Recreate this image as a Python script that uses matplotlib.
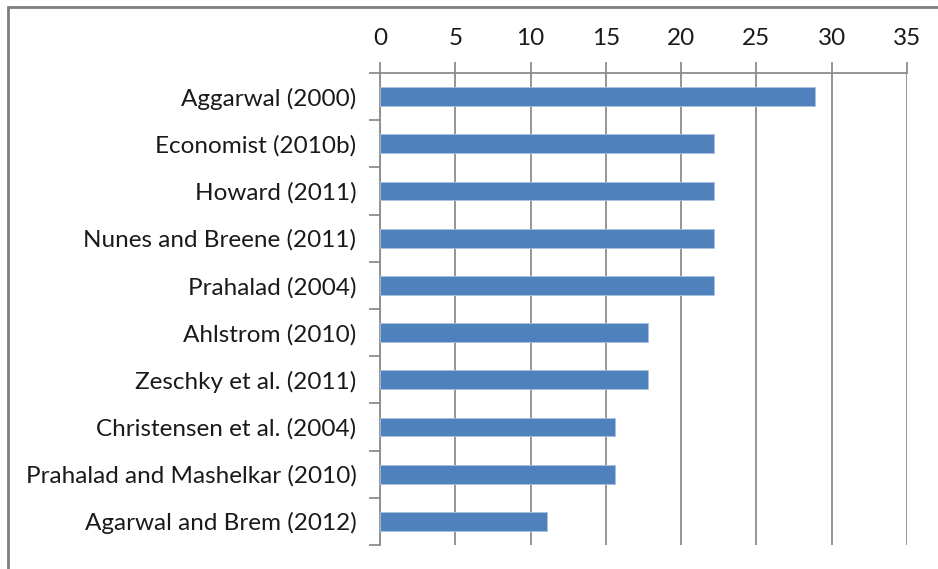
import numpy as np
import matplotlib.pyplot as plt
from matplotlib.patches import Rectangle

# studies, top to bottom as shown
studies = [
    "Aggarwal (2000)",
    "Economist (2010b)",
    "Howard (2011)",
    "Nunes and Breene (2011)",
    "Prahalad (2004)",
    "Ahlstrom (2010)",
    "Zeschky et al. (2011)",
    "Christensen et al. (2004)",
    "Prahalad and Mashelkar (2010)",
    "Agarwal and Brem (2012)",
]
values = [28.9, 22.2, 22.2, 22.2, 22.2, 17.8, 17.8, 15.6, 15.6, 11.1]
xticks = [0, 5, 10, 15, 20, 25, 30, 35]

plt.rcParams['font.family'] = ['Lato', 'DejaVu Sans']

fig = plt.figure(figsize=(9.38, 5.69), dpi=100)
ax = fig.add_axes([380/938, 1-545/569, (907-380)/938, (545-73)/569])

n = len(studies)
ypos = np.arange(n)
ax.barh(ypos, values, height=0.4, color="#4F81BD", edgecolor="#A9C1E0", linewidth=0.6, zorder=3)

ax.set_xlim(0, 35)
ax.set_ylim(n - 0.5, -0.5)
ax.xaxis.tick_top()
ax.set_xticks(xticks)
ax.set_xticklabels([str(t) for t in xticks])
ax.grid(axis="x", color="#8c8c8c", linewidth=1.3, zorder=0)

# category labels between tick marks
ax.set_yticks(ypos)
ax.set_yticklabels(studies)
ax.set_yticks(np.arange(n + 1) - 0.5, minor=True)
ax.tick_params(axis="y", which="major", length=0, pad=17, labelsize=17.5, colors="#1a1a1a")
ax.tick_params(axis="y", which="minor", length=8, width=1.3, color="#8c8c8c", direction="out")
ax.tick_params(axis="x", length=8, width=1.3, color="#8c8c8c", pad=9, labelsize=17.5, labelcolor="#1a1a1a")

for s in ["right", "bottom"]:
    ax.spines[s].set_visible(False)
for s in ["top", "left"]:
    ax.spines[s].set_color("#8c8c8c")
    ax.spines[s].set_linewidth(1.3)

# outer chart border
fig.patches.append(Rectangle((8/938, -0.1), 1.2, 1.1 - 7/569, transform=fig.transFigure,
                             fill=False, edgecolor="#7f7f7f", linewidth=2))

fig.savefig("out.png", dpi=100)
